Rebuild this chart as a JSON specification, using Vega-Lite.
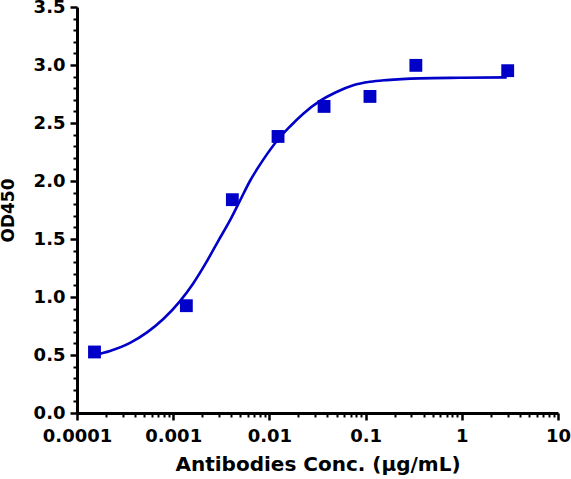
{
  "$schema": "https://vega.github.io/schema/vega-lite/v6.json",
  "autosize": {"type": "none"},
  "width": 481,
  "height": 406,
  "padding": {"left": 77, "top": 7, "right": 13, "bottom": 66},
  "background": "white",
  "config": {"view": {"stroke": null}},
  "datasets": {
    "curve": [
      {"conc": 0.000153, "od": 0.50},
      {"conc": 0.000220, "od": 0.535},
      {"conc": 0.000356, "od": 0.605},
      {"conc": 0.000535, "od": 0.695},
      {"conc": 0.000789, "od": 0.81},
      {"conc": 0.001178, "od": 0.965},
      {"conc": 0.001607, "od": 1.115},
      {"conc": 0.002228, "od": 1.305},
      {"conc": 0.002924, "od": 1.48},
      {"conc": 0.003890, "od": 1.66},
      {"conc": 0.004943, "od": 1.83},
      {"conc": 0.006281, "od": 2.0},
      {"conc": 0.008570, "od": 2.18},
      {"conc": 0.01236, "od": 2.36},
      {"conc": 0.01637, "od": 2.47},
      {"conc": 0.02249, "od": 2.58},
      {"conc": 0.03357, "od": 2.69},
      {"conc": 0.04920, "od": 2.765},
      {"conc": 0.07447, "od": 2.825},
      {"conc": 0.1112, "od": 2.855},
      {"conc": 0.1656, "od": 2.87},
      {"conc": 0.3673, "od": 2.885},
      {"conc": 0.9572, "od": 2.89},
      {"conc": 2.931, "od": 2.893}
    ],
    "points": [
      {"conc": 0.000152, "od": 0.526},
      {"conc": 0.00137, "od": 0.925},
      {"conc": 0.00412, "od": 1.839},
      {"conc": 0.0123, "od": 2.384},
      {"conc": 0.037, "od": 2.643},
      {"conc": 0.111, "od": 2.729},
      {"conc": 0.333, "od": 2.997},
      {"conc": 3, "od": 2.951}
    ]
  },
  "layer": [
    {
      "data": {"name": "curve"},
      "mark": {"type": "line", "color": "#0000C8", "strokeWidth": 2.6, "interpolate": "monotone"},
      "encoding": {
        "x": {
          "field": "conc", "type": "quantitative",
          "scale": {"type": "log", "domain": [0.0001, 10], "nice": false},
          "axis": {
            "values": [0.0001, 0.0002, 0.0003, 0.0004, 0.0005, 0.0006, 0.0007, 0.0008, 0.0009,
                       0.001, 0.002, 0.003, 0.004, 0.005, 0.006, 0.007, 0.008, 0.009,
                       0.01, 0.02, 0.03, 0.04, 0.05, 0.06, 0.07, 0.08, 0.09,
                       0.1, 0.2, 0.3, 0.4, 0.5, 0.6, 0.7, 0.8, 0.9,
                       1, 2, 3, 4, 5, 6, 7, 8, 9, 10],
            "tickCount": 100,
            "labelExpr": "abs(log(datum.value)/LN10 - round(log(datum.value)/LN10)) < 0.000001 ? format(datum.value, '~g') : ''",
            "labelOverlap": false,
            "grid": false, "domainColor": "black", "domainWidth": 3,
            "tickColor": "black",
            "tickWidth": {"condition": {"test": "abs(log(datum.value)/LN10 - round(log(datum.value)/LN10)) < 0.000001", "value": 2.5}, "value": 2},
            "tickSize": {"condition": {"test": "abs(log(datum.value)/LN10 - round(log(datum.value)/LN10)) < 0.000001", "value": 7}, "value": 4},
            "labelFont": "DejaVu Sans", "labelFontWeight": "bold", "labelFontSize": 18,
            "labelColor": "black", "labelPadding": 7, "labelFlush": false,
            "title": "Antibodies Conc. (μg/mL)",
            "titleFont": "DejaVu Sans", "titleFontWeight": "bold", "titleFontSize": 20,
            "titleColor": "black", "titlePadding": 9
          }
        },
        "y": {
          "field": "od", "type": "quantitative",
          "scale": {"domain": [0, 3.5], "nice": false, "zero": true},
          "axis": {
            "values": [0, 0.1, 0.2, 0.3, 0.4, 0.5, 0.6, 0.7, 0.8, 0.9, 1, 1.1, 1.2, 1.3, 1.4, 1.5, 1.6, 1.7, 1.8, 1.9,
                       2, 2.1, 2.2, 2.3, 2.4, 2.5, 2.6, 2.7, 2.8, 2.9, 3, 3.1, 3.2, 3.3, 3.4, 3.5],
            "tickCount": 100,
            "labelExpr": "abs(datum.value*2 - round(datum.value*2)) < 0.000001 ? format(datum.value, '.1f') : ''",
            "labelOverlap": false,
            "grid": false, "domainColor": "black", "domainWidth": 3,
            "tickColor": "black",
            "tickWidth": {"condition": {"test": "abs(datum.value*2 - round(datum.value*2)) < 0.000001", "value": 2.5}, "value": 2},
            "tickSize": {"condition": {"test": "abs(datum.value*2 - round(datum.value*2)) < 0.000001", "value": 7}, "value": 4},
            "labelFont": "DejaVu Sans", "labelFontWeight": "bold", "labelFontSize": 18,
            "labelColor": "black", "labelPadding": 5, "labelFlush": false,
            "title": "OD450",
            "titleFont": "DejaVu Sans", "titleFontWeight": "bold", "titleFontSize": 17,
            "titleColor": "black", "titlePadding": 16
          }
        }
      }
    },
    {
      "data": {"name": "points"},
      "mark": {"type": "point", "shape": "square", "filled": true, "size": 165, "color": "#0000C8", "opacity": 1},
      "encoding": {
        "x": {"field": "conc", "type": "quantitative"},
        "y": {"field": "od", "type": "quantitative"}
      }
    }
  ]
}
